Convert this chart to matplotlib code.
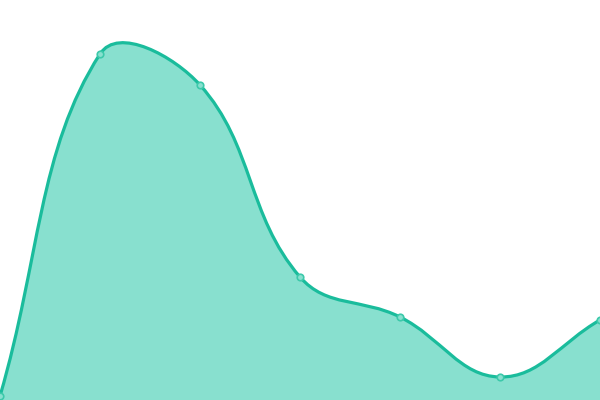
import numpy as np
import matplotlib
matplotlib.use('Agg')
import matplotlib.pyplot as plt
from matplotlib.path import Path
from matplotlib.patches import PathPatch

labels = ['0', '1', '2', '3', '4', '5', '6']
values = [4, 346, 315, 123, 83, 23, 80]

line_color = '#1abc9c'
fill_color = '#88e0cf'
point_edge = '#3cc9aa'
tension = 0.4

W, H = 600, 400
fig = plt.figure(figsize=(6, 4), dpi=100)
ax = fig.add_axes([0, 0, 1, 1])
ax.set_xlim(0, W)
ax.set_ylim(0, H)
ax.axis('off')

x = np.arange(len(values)) * (W / (len(values) - 1))
y = np.array(values, dtype=float)
pts = np.column_stack([x, y])

# chart.js style spline control points
n = len(pts)
cin = pts.copy()
cout = pts.copy()
for i in range(n):
    prev = pts[i - 1] if i > 0 else pts[i]
    nxt = pts[i + 1] if i < n - 1 else pts[i]
    d01 = np.hypot(*(pts[i] - prev))
    d12 = np.hypot(*(nxt - pts[i]))
    tot = d01 + d12
    s01 = d01 / tot if tot else 0
    s12 = d12 / tot if tot else 0
    cin[i] = pts[i] - tension * s01 * (nxt - prev)
    cout[i] = pts[i] + tension * s12 * (nxt - prev)
cin[:, 0] = np.clip(cin[:, 0], 0, W); cin[:, 1] = np.clip(cin[:, 1], 0, H)
cout[:, 0] = np.clip(cout[:, 0], 0, W); cout[:, 1] = np.clip(cout[:, 1], 0, H)

verts = [pts[0]]
codes = [Path.MOVETO]
for i in range(n - 1):
    verts += [cout[i], cin[i + 1], pts[i + 1]]
    codes += [Path.CURVE4] * 3

fill_verts = verts + [(x[-1], 0), (x[0], 0), pts[0]]
fill_codes = codes + [Path.LINETO, Path.LINETO, Path.CLOSEPOLY]
ax.add_patch(PathPatch(Path(fill_verts, fill_codes), facecolor=fill_color, edgecolor='none'))
ax.add_patch(PathPatch(Path(verts, codes), facecolor='none', edgecolor=line_color, lw=2.3))

ax.scatter(x, y, s=22, facecolor=fill_color, edgecolor=point_edge, linewidth=1.2, zorder=5, clip_on=True)

fig.savefig('out.png', dpi=100)
